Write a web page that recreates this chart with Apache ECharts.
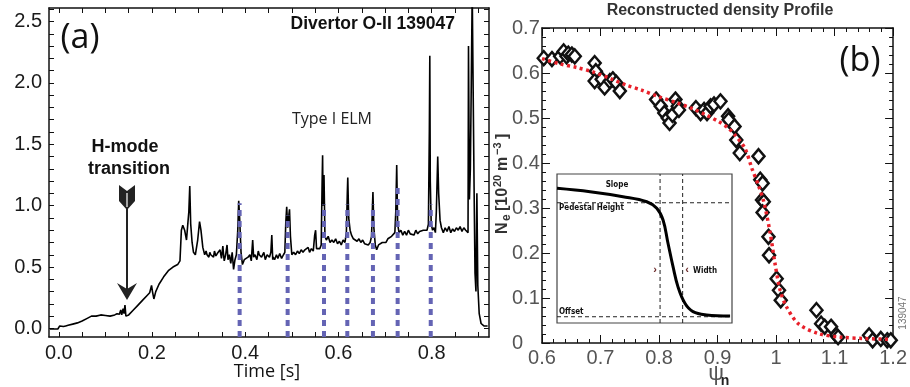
<!DOCTYPE html>
<html><head><meta charset="utf-8">
<script src="https://cdn.jsdelivr.net/npm/echarts@6/dist/echarts.min.js"></script>
<style>html,body{margin:0;padding:0;background:#fff}#c{width:910px;height:387px}</style>
</head><body><div id="c"></div>
<script>
// ---------- Panel (a): Divertor O-II signal vs time ----------
const oiiTrace = [
[-0.019,-0.005],[-0.01,-0.005],[-0.002,-0.005],[0.002,0.02],[0.006,0.03],[0.01,0.015],[0.015,0.02],[0.02,0.025],
[0.03,0.035],[0.04,0.045],[0.05,0.06],[0.06,0.08],[0.065,0.09],[0.07,0.1],[0.08,0.1],[0.09,0.11],[0.1,0.105],
[0.11,0.1],[0.12,0.11],[0.125,0.12],[0.13,0.115],[0.133,0.15],[0.135,0.11],[0.138,0.16],[0.14,0.12],[0.142,0.19],
[0.144,0.1],[0.146,0.09],[0.15,0.11],[0.16,0.15],[0.17,0.19],[0.18,0.23],[0.19,0.27],[0.195,0.29],[0.199,0.35],
[0.201,0.3],[0.204,0.24],[0.208,0.3],[0.215,0.36],[0.225,0.42],[0.235,0.47],[0.245,0.5],[0.255,0.52],[0.26,0.55],
[0.263,0.8],[0.266,0.84],[0.27,0.8],[0.274,0.72],[0.277,0.86],[0.279,0.95],[0.281,1.16],[0.283,0.85],[0.286,0.7],
[0.289,0.62],[0.293,0.6],[0.298,0.72],[0.302,0.87],[0.305,0.8],[0.309,0.66],[0.313,0.6],[0.316,0.63],[0.318,0.6],[0.322,0.58],
[0.324,0.62],[0.326,0.6],[0.33,0.61],[0.332,0.58],[0.334,0.63],[0.337,0.59],[0.34,0.61],[0.343,0.6],[0.346,0.64],[0.349,0.57],[0.352,0.67],
[0.354,0.58],[0.355,0.55],[0.358,0.6],[0.361,0.68],[0.363,0.56],[0.366,0.6],[0.369,0.53],[0.372,0.62],[0.375,0.48],[0.378,0.56],
[0.381,0.6],[0.384,0.8],[0.386,1.04],[0.388,0.9],[0.391,0.62],[0.394,0.52],[0.398,0.56],[0.402,0.55],[0.406,0.58],
[0.41,0.6],[0.413,0.55],[0.416,0.72],[0.418,0.58],[0.421,0.6],[0.425,0.56],[0.428,0.63],[0.43,0.6],[0.435,0.58],[0.44,0.62],
[0.443,0.56],[0.447,0.6],[0.452,0.58],[0.455,0.62],[0.457,0.76],[0.459,0.56],[0.46,0.58],[0.463,0.56],[0.467,0.6],[0.47,0.57],[0.474,0.61],
[0.478,0.57],[0.482,0.6],[0.485,0.62],[0.487,0.86],[0.489,0.99],[0.491,0.82],[0.493,0.9],[0.495,0.97],[0.497,0.75],
[0.5,0.6],[0.504,0.62],[0.508,0.6],[0.512,0.63],[0.516,0.61],[0.52,0.64],[0.524,0.62],[0.528,0.64],[0.531,0.63],
[0.535,0.66],[0.538,0.62],[0.542,0.65],[0.546,0.63],[0.549,0.76],[0.551,0.8],[0.553,0.65],[0.557,0.66],[0.56,0.65],
[0.563,0.68],[0.565,1.2],[0.566,1.41],[0.567,1.0],[0.569,1.25],[0.571,0.75],[0.574,0.72],[0.578,0.75],[0.582,0.7],
[0.586,0.72],[0.59,0.7],[0.594,0.73],[0.598,0.69],[0.602,0.71],[0.606,0.68],[0.61,0.72],[0.614,0.7],[0.617,0.78],
[0.619,1.1],[0.62,1.23],[0.622,0.9],[0.625,0.8],[0.628,0.76],[0.632,0.73],[0.636,0.74],[0.64,0.71],[0.644,0.73],
[0.648,0.7],[0.652,0.72],[0.656,0.69],[0.66,0.7],[0.664,0.68],[0.668,0.7],[0.671,0.75],[0.673,1.0],[0.674,1.11],
[0.676,0.82],[0.679,0.68],[0.682,0.64],[0.686,0.68],[0.69,0.69],[0.694,0.7],[0.698,0.71],[0.702,0.7],[0.706,0.73],
[0.71,0.72],[0.714,0.75],[0.718,0.74],[0.721,0.78],[0.723,0.95],[0.725,1.33],[0.727,0.85],[0.73,0.78],[0.734,0.8],
[0.738,0.76],[0.742,0.79],[0.746,0.76],[0.75,0.8],[0.754,0.77],[0.758,0.78],[0.762,0.76],[0.766,0.8],[0.77,0.77],
[0.774,0.79],[0.778,0.78],[0.782,0.8],[0.786,0.79],[0.79,0.8],[0.793,0.85],[0.795,1.6],[0.796,2.22],[0.797,1.2],
[0.799,0.85],[0.802,0.8],[0.805,0.82],[0.808,0.78],[0.81,0.95],[0.812,1.25],[0.813,1.4],[0.815,1.1],[0.818,0.88],
[0.821,0.82],[0.825,0.78],[0.829,0.82],[0.833,0.79],[0.837,0.83],[0.841,0.78],[0.845,0.81],[0.849,0.79],[0.853,0.82],
[0.857,0.8],[0.861,0.83],[0.865,0.79],[0.869,0.82],[0.873,0.8],[0.877,0.81],[0.878,0.78],[0.879,2.3],[0.881,1.05],
[0.883,1.3],[0.885,2.0],[0.887,2.75],[0.889,2.75],[0.891,1.15],[0.893,0.45],[0.895,0.3],[0.897,1.1],[0.899,0.35],
[0.902,0.12],[0.906,0.04],[0.912,0.02],[0.92,0.02]
];
const elmTimes = [0.388, 0.491, 0.569, 0.619, 0.674, 0.727, 0.798];
const elmTops  = [1.02, 0.92, 1.01, 1.01, 1.01, 1.18, 1.01];
const aTickX  = [0,0.05,0.1,0.15,0.2,0.25,0.3,0.35,0.4,0.45,0.5,0.55,0.6,0.65,0.7,0.75,0.8,0.85,0.9];
const aLabelX = [0,0.2,0.4,0.6,0.8];
const aTickY  = [0,0.1,0.2,0.3,0.4,0.5,0.6,0.7,0.8,0.9,1,1.1,1.2,1.3,1.4,1.5,1.6,1.7,1.8,1.9,2,2.1,2.2,2.3,2.4,2.5,2.6];
const aLabelY = [0,0.5,1,1.5,2,2.5];

// ---------- Panel (b): reconstructed density profile ----------
const psiN = [0.603,0.617,0.631,0.637,0.642,0.645,0.651,0.656,
  0.690,0.692,0.690,0.702,0.707,0.716,0.721,0.727,0.733,
  0.795,0.803,0.809,0.815,0.818,0.823,0.828,0.832,0.834,
  0.863,0.871,0.877,0.882,0.888,0.894,0.905,
  0.918,0.919,0.929,0.932,0.938,
  0.970,0.973,0.977,0.976,0.979,0.977,0.987,0.988,1.001,1.005,1.008,
  1.069,1.077,1.083,1.094,1.103,1.106,
  1.159,1.165,1.179,1.190,1.196];
const neDensity = [0.633,0.631,0.637,0.648,0.637,0.643,0.641,0.637,
  0.622,0.604,0.582,0.586,0.568,0.582,0.586,0.578,0.560,
  0.541,0.526,0.511,0.500,0.489,0.507,0.541,0.526,0.518,
  0.522,0.511,0.518,0.511,0.526,0.530,0.537,
  0.504,0.496,0.481,0.451,0.422,
  0.415,0.363,0.355,0.318,0.314,0.290,0.236,0.195,0.143,0.117,0.095,
  0.073,0.043,0.036,0.036,0.017,0.013,
  0.017,0.006,0.009,0.006,0.006];
const fitPsi = [0.6,0.631,0.66,0.688,0.72,0.744,0.77,0.8,0.83,0.857,0.88,0.902,0.918,0.93,0.947,0.959,0.97,0.979,0.99,0.998,1.007,1.018,1.038,1.072,1.111,1.15,1.196];
const fitNe  = [0.632,0.62,0.612,0.602,0.586,0.573,0.562,0.547,0.534,0.521,0.507,0.492,0.478,0.462,0.432,0.387,0.35,0.314,0.244,0.178,0.117,0.08,0.043,0.021,0.013,0.01,0.008];

// ---------- Inset: schematic pedestal profile (normalised box units) ----------
const insetX = [0,0.189,0.377,0.513,0.570,0.606,0.634,0.663,0.691,0.731,0.777,0.855,0.989];
const insetY = [0.904,0.881,0.848,0.814,0.770,0.691,0.537,0.378,0.244,0.132,0.076,0.054,0.047];
const pedestalLevel = 0.807;
const offsetLevel = 0.042;
const widthBounds = [0.589, 0.718];

const chart = echarts.init(document.getElementById('c'), null, {renderer:'canvas'});
const LS = "'Liberation Sans', Arial, Helvetica, sans-serif";
const MY = "'Open Sans', 'Noto Sans', sans-serif";

function aX(pos, labels){
  return {gridIndex:0, type:'value', position:pos, min:-0.021, max:0.923,
    axisLine:{show:true, onZero:false, lineStyle:{color:'#111', width:1.5}},
    axisTick:{show:true, inside:true, length:5, customValues:aTickX, lineStyle:{color:'#111', width:1}},
    axisLabel:{show:labels, customValues:aLabelX, formatter:v=>v.toFixed(1), margin:6, fontFamily:LS, fontSize:20, color:'#1a1a1a'},
    splitLine:{show:false}};
}
function aY(pos, labels){
  return {gridIndex:0, type:'value', position:pos, min:-0.07, max:2.61,
    axisLine:{show:true, onZero:false, lineStyle:{color:'#111', width:1.5}},
    axisTick:{show:true, inside:true, length:5, customValues:aTickY, lineStyle:{color:'#111', width:1}},
    axisLabel:{show:labels, customValues:aLabelY, formatter:v=>v.toFixed(1), margin:7, fontFamily:LS, fontSize:20, color:'#1a1a1a'},
    splitLine:{show:false}};
}
function bX(pos, labels){
  return {gridIndex:1, type:'value', position:pos, min:0.6, max:1.2, interval:0.1,
    axisLine:{show:true, onZero:false, lineStyle:{color:'#111', width:1.5}},
    axisTick:{show:true, inside:true, length:8, lineStyle:{color:'#111', width:1}},
    minorTick:{show:true, splitNumber:5, length:4, lineStyle:{color:'#111', width:1}},
    axisLabel:{show:labels, margin:5, fontFamily:LS, fontSize:20, color:'#555'},
    splitLine:{show:false}};
}
function bY(pos, labels){
  return {gridIndex:1, type:'value', position:pos, min:0, max:0.7, interval:0.1,
    axisLine:{show:true, onZero:false, lineStyle:{color:'#111', width:1.5}},
    axisTick:{show:true, inside:true, length:8, lineStyle:{color:'#111', width:1}},
    minorTick:{show:true, splitNumber:5, length:4, lineStyle:{color:'#111', width:1}},
    axisLabel:{show:labels, margin:30, align:'left', fontFamily:LS, fontSize:20, color:'#555'},
    splitLine:{show:false}};
}

const series = [];
series.push({type:'line', xAxisIndex:0, yAxisIndex:0, data:oiiTrace, showSymbol:false, symbol:'none',
  lineStyle:{color:'#000', width:1.6}, z:2, animation:false});
elmTimes.forEach((t,i)=>{
  series.push({type:'line', xAxisIndex:0, yAxisIndex:0, data:[[t,-0.07],[t,elmTops[i]]], symbol:'none',
    lineStyle:{color:'#6464b4', width:4, type:[6,5]}, z:3, animation:false});
});
series.push({type:'scatter', xAxisIndex:2, yAxisIndex:2, data:psiN.map((p,i)=>[p,neDensity[i]]),
  symbol:'diamond', symbolSize:[12,14], itemStyle:{color:'#fff', borderColor:'#111', borderWidth:2.5, opacity:1}, z:3, animation:false});
series.push({type:'line', xAxisIndex:2, yAxisIndex:2, data:fitPsi.map((p,i)=>[p,fitNe[i]]), smooth:0.3, symbol:'none',
  lineStyle:{color:'#e8202a', width:3.5, type:[3,3.5]}, z:4, animation:false});
// inset
series.push({type:'line', xAxisIndex:4, yAxisIndex:4, data:insetX.map((x,i)=>[x,insetY[i]]), smooth:0.4, symbol:'none',
  lineStyle:{color:'#000', width:3}, z:6, animation:false});
const dash = {color:'#222', width:1, type:[4,3]};
series.push({type:'line', xAxisIndex:4, yAxisIndex:4, data:[[0,pedestalLevel],[1,pedestalLevel]], symbol:'none', lineStyle:dash, z:5, animation:false});
series.push({type:'line', xAxisIndex:4, yAxisIndex:4, data:[[0,offsetLevel],[1,offsetLevel]], symbol:'none', lineStyle:dash, z:5, animation:false});
widthBounds.forEach(w=>{
  series.push({type:'line', xAxisIndex:4, yAxisIndex:4, data:[[w,0],[w,1]], symbol:'none', lineStyle:dash, z:5, animation:false});
});

function txt(x,y,text,font,fill,align,extra){
  return Object.assign({type:'text', x:x, y:y, z:100, style:{text:text, font:font, fill:fill||'#111', textAlign:align||'center', textVerticalAlign:'middle'}}, extra||{});
}
const NAR = "'Liberation Sans Narrow','DejaVu Sans Condensed',sans-serif";
const graphic = [
  txt(80,38,'(a)','34px '+MY,'#111'),
  txt(455,24,'Divertor O-II 139047','bold 17.5px '+LS,'#111','right'),
  txt(332,119,'Type I ELM','16px '+MY,'#222'),
  txt(125,147,'H-mode','bold 18px '+LS,'#111'),
  txt(129,169,'transition','bold 18px '+LS,'#111'),
  txt(267,372,'Time [s]','18px '+MY,'#111'),
  // arrow
  {type:'line', z:100, shape:{x1:127,y1:205,x2:127,y2:290}, style:{stroke:'#222', lineWidth:2}},
  {type:'polygon', z:100, shape:{points:[[117,283],[127,300],[137,283],[127,289]]}, style:{fill:'#222'}},
  {type:'polygon', z:100, shape:{points:[[119,185],[127,191],[135,185],[135,201],[127,210],[119,201]]}, style:{fill:'#222'}},
  {type:'line', z:101, shape:{x1:127,y1:193,x2:127,y2:207}, style:{stroke:'#fff', lineWidth:1.2}},
  // panel b texts
  txt(720,11,'Reconstructed density Profile','bold 16px '+LS,'#333'),
  txt(860,61,'(b)','34px '+MY,'#111'),
  txt(716,374,'ψ','22px '+LS,'#555'),
  txt(725,381,'n','bold 14px '+LS,'#222'),
  {type:'group', x:503, y:234, rotation:Math.PI/2, z:100, children:[
    txt(0,0,'N','bold 16px '+LS,'#333','left'),
    txt(13,4,'e','bold 12px '+LS,'#333','left'),
    txt(23,0,'[10','bold 16px '+LS,'#333','left'),
    txt(47,-5,'20','bold 11px '+LS,'#333','left'),
    txt(63,0,'m','bold 16px '+LS,'#333','left'),
    txt(79,-5,'−3','bold 11px '+LS,'#333','left'),
    txt(95,0,']','bold 16px '+LS,'#333','left')
  ]},
  txt(903,313,'139047','10px '+LS,'#777','center',{rotation:Math.PI/2}),
  // inset annotations
  txt(617,185,'Slope','bold 8px '+NAR,'#111'),
  txt(559,208,'Pedestal Height','bold 8px '+NAR,'#111','left'),
  txt(559,312,'Offset','bold 8px '+NAR,'#111','left'),
  txt(693,271,'Width','bold 8px '+NAR,'#111','left'),
  txt(655,270,'›','bold 11px '+LS,'#6b2a2a'),
  txt(687,270,'‹','bold 11px '+LS,'#6b2a2a')
];

chart.setOption({
  animation:false,
  backgroundColor:'#fff',
  grid:[
    {left:49, top:8, width:440, height:329},
    {left:542, top:28, width:355, height:315},
    {left:557, top:174, width:175, height:149, show:true, backgroundColor:'#fff', borderColor:'#444', borderWidth:1.2, z:4}
  ],
  xAxis:[aX('bottom',true), aX('top',false), bX('bottom',true), bX('top',false),
    {gridIndex:2, type:'value', min:0, max:1, show:false}],
  yAxis:[aY('left',true), aY('right',false), bY('left',true), bY('right',false),
    {gridIndex:2, type:'value', min:0, max:1, show:false}],
  series:series,
  graphic:graphic
});
</script></body></html>
